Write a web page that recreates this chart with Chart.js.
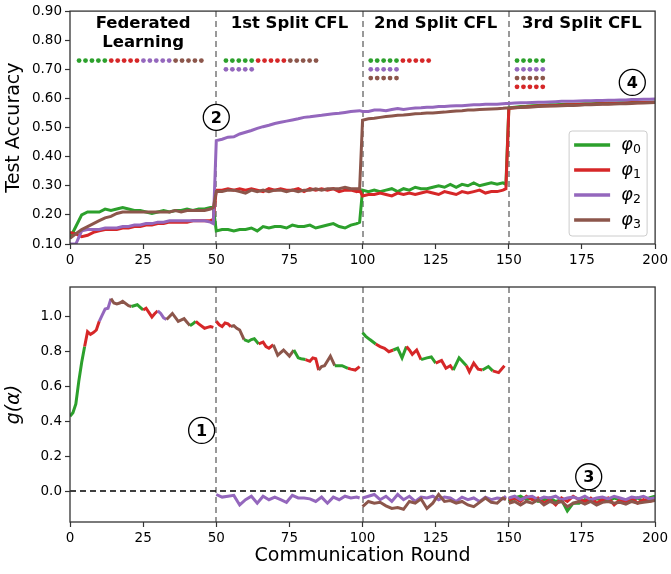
<!DOCTYPE html>
<html><head><meta charset="utf-8">
<script src="https://cdn.jsdelivr.net/npm/chart.js@4.4.0/dist/chart.umd.min.js"></script>
<style>
html,body{margin:0;padding:0;background:#fff;}
#w1{position:absolute;left:0;top:0;width:671px;height:275px;}
#w2{position:absolute;left:0;top:275px;width:671px;height:299px;}
</style></head><body>
<div id="w1"><canvas id="c1"></canvas></div>
<div id="w2"><canvas id="c2"></canvas></div>
<script>
// ---------------- DATA ----------------
const clientLabels = ['φ₀','φ₁','φ₂','φ₃'];
const phaseTitles = [['Federated','Learning'],['1st Split CFL'],['2nd Split CFL'],['3rd Split CFL']];
const phaseStarts = [0,50,100,150];
const splitRounds = [50,100,150];
// cluster membership shown by the coloured dots (rows of client groups per phase)
const clusterRows = [[[0,1,2,3]], [[0,1,3],[2]], [[0,1],[2],[3]], [[0],[2],[3],[1]]];
const xTicks = [0,25,50,75,100,125,150,175,200];
const accTicks = [0.1,0.2,0.3,0.4,0.5,0.6,0.7,0.8,0.9];
const gTicks = [0,0.2,0.4,0.6,0.8,1.0];

const rounds = [0,2,4,6,8,10,12,14,16,18,20,22,24,26,28,30,32,34,36,38,40,42,44,46,48,49,
 50,52,54,56,58,60,62,64,66,68,70,72,74,76,78,80,82,84,86,88,90,92,94,96,98,99,
 100,102,104,106,108,110,112,114,116,118,120,122,124,126,128,130,132,134,136,138,140,142,144,146,148,149,
 150,152,154,156,158,160,162,164,166,168,170,172,174,176,178,180,182,184,186,188,190,192,194,196,198,200];

const accPhi0 = [
 0.12,0.16,0.20,0.21,0.21,0.21,0.22,0.215,0.22,0.225,0.22,0.215,0.215,0.21,0.205,0.21,0.215,0.21,0.215,0.215,0.22,0.215,0.22,0.22,0.225,0.225,
 0.145,0.15,0.15,0.145,0.15,0.15,0.155,0.145,0.16,0.155,0.16,0.16,0.155,0.165,0.16,0.16,0.165,0.155,0.16,0.165,0.17,0.16,0.155,0.165,0.17,0.175,
 0.285,0.28,0.285,0.28,0.285,0.29,0.28,0.29,0.285,0.295,0.29,0.29,0.295,0.3,0.295,0.305,0.295,0.305,0.3,0.31,0.3,0.305,0.31,0.305,0.31,0.305,
 0.568,0.57,0.572,0.573,0.575,0.576,0.577,0.578,0.578,0.579,0.58,0.58,0.581,0.582,0.582,0.583,0.583,0.584,0.584,0.585,0.585,0.586,0.586,0.587,0.587,0.588];
const accPhi1 = [
 0.14,0.135,0.125,0.13,0.14,0.145,0.15,0.15,0.15,0.155,0.155,0.16,0.16,0.165,0.165,0.17,0.17,0.175,0.175,0.175,0.175,0.18,0.18,0.18,0.18,0.185,
 0.285,0.285,0.29,0.285,0.29,0.285,0.29,0.285,0.28,0.29,0.285,0.29,0.285,0.285,0.29,0.28,0.29,0.285,0.29,0.285,0.29,0.28,0.285,0.285,0.28,0.285,
 0.265,0.27,0.27,0.275,0.27,0.265,0.275,0.27,0.275,0.27,0.275,0.28,0.275,0.27,0.28,0.275,0.27,0.28,0.275,0.28,0.285,0.275,0.28,0.28,0.285,0.29,
 0.565,0.568,0.57,0.571,0.572,0.574,0.575,0.575,0.576,0.577,0.578,0.578,0.579,0.58,0.58,0.581,0.582,0.582,0.583,0.583,0.584,0.585,0.585,0.586,0.586,0.587];
const accPhi2 = [
 0.10,0.10,0.145,0.15,0.15,0.15,0.155,0.155,0.155,0.16,0.16,0.165,0.165,0.17,0.17,0.175,0.175,0.18,0.18,0.18,0.18,0.18,0.18,0.18,0.175,0.17,
 0.455,0.46,0.467,0.468,0.478,0.484,0.49,0.497,0.503,0.508,0.514,0.518,0.522,0.526,0.53,0.535,0.537,0.54,0.542,0.545,0.547,0.549,0.552,0.555,0.557,0.558,
 0.555,0.555,0.56,0.56,0.558,0.562,0.565,0.562,0.565,0.567,0.568,0.57,0.57,0.572,0.572,0.574,0.575,0.575,0.577,0.578,0.578,0.58,0.58,0.58,0.582,0.583,
 0.583,0.584,0.585,0.585,0.586,0.587,0.587,0.588,0.589,0.59,0.59,0.59,0.591,0.592,0.592,0.593,0.593,0.594,0.594,0.595,0.595,0.596,0.596,0.597,0.597,0.598];
const accPhi3 = [
 0.12,0.135,0.15,0.16,0.17,0.18,0.19,0.195,0.205,0.21,0.21,0.21,0.21,0.21,0.21,0.21,0.21,0.21,0.215,0.21,0.215,0.215,0.215,0.215,0.22,0.225,
 0.28,0.28,0.285,0.285,0.28,0.275,0.285,0.28,0.285,0.28,0.285,0.285,0.28,0.285,0.28,0.285,0.285,0.29,0.285,0.29,0.29,0.29,0.295,0.29,0.29,0.29,
 0.525,0.53,0.532,0.535,0.538,0.54,0.542,0.543,0.545,0.547,0.548,0.55,0.55,0.552,0.553,0.555,0.557,0.558,0.56,0.56,0.562,0.563,0.564,0.565,0.566,0.567,
 0.567,0.568,0.569,0.57,0.571,0.572,0.573,0.574,0.574,0.575,0.576,0.576,0.577,0.578,0.578,0.579,0.58,0.58,0.581,0.582,0.582,0.583,0.584,0.584,0.585,0.586];

// g(alpha) of the split candidate, with the client that it belongs to (null = gap)
const gRounds = [0,1,2,3,4,5,6,7,8,9,10,11,12,13,14,15,16,17,18,20,21,23,24,25,26,28,29,30,31,32,33,35,37,39,40,41,42,43,44,46,47,48,49,49.5,
 50,51,52,53,54,55,56,57,58,59.5,61,62,63,64.5,66,67,68,69.5,71,73,75,76.5,78,79,80.5,82,83,84,85,86,87,89,90.5,92,93,95,96,97.5,99,99.5,
 100,101,102.5,104.5,106,107.5,109,110.5,112,113.5,115,116,117,118.5,120,122,123.5,125,127,128.5,130,131,133,135.5,136.5,138,139.5,141,143,144.5,146.5,148.5];
const gValues = [0.43,0.45,0.50,0.63,0.74,0.83,0.915,0.90,0.91,0.925,0.975,1.01,1.045,1.05,1.105,1.08,1.075,1.08,1.09,1.065,1.06,1.07,1.055,1.04,1.05,1.0,1.02,1.035,1.02,0.995,0.985,1.02,0.975,0.99,0.97,0.95,0.96,0.975,0.96,0.935,0.94,0.945,0.94,null,
 0.975,0.955,0.945,0.965,0.96,0.945,0.95,0.935,0.925,0.87,0.86,0.87,0.875,0.845,0.855,0.83,0.82,0.84,0.78,0.81,0.775,0.81,0.765,0.76,0.755,0.745,0.765,0.76,0.695,0.715,0.72,0.775,0.72,0.72,0.72,0.705,0.70,0.695,0.715,null,
 0.91,0.89,0.87,0.845,0.83,0.82,0.80,0.81,0.82,0.765,0.83,0.81,0.785,0.81,0.755,0.765,0.77,0.735,0.75,0.705,0.72,0.695,0.765,0.72,0.685,0.735,0.70,0.695,0.715,0.69,0.68,0.72];
const gClient = [0,0,0,0,0,1,1,1,1,1,2,2,2,2,3,3,3,3,3,3,0,0,0,1,1,1,1,2,2,2,3,3,3,3,3,0,0,1,1,1,1,1,1,1,
 1,1,1,1,1,3,3,3,3,0,0,0,0,1,1,1,1,3,3,3,3,0,0,0,1,1,1,1,3,3,3,3,0,0,0,1,1,1,1,1,
 0,0,0,1,1,1,1,0,0,0,1,1,1,1,0,0,0,1,1,1,1,0,0,1,1,1,1,0,0,1,1,1];

// g(alpha) of the other cluster pairs (close to / below zero)
const lowRoundsA = [50,52,54,56,58,60,62,64,66,68,70,72,74,76,78,80,82,84,86,88,90,92,94,96,98,99];
const lowRoundsB = [100,102,104,106,108,110,112,114,116,118,120,122,124,126,128,130,132,134,136,138,140,142,144,146,148,149];
const lowRoundsC = [150,152,154,156,158,160,162,164,166,168,170,172,174,176,178,180,182,184,186,188,190,192,194,196,198,200];
const lowPhi2A = [-0.02,-0.035,-0.03,-0.025,-0.08,-0.05,-0.03,-0.07,-0.03,-0.05,-0.035,-0.05,-0.065,-0.025,-0.04,-0.04,-0.045,-0.06,-0.035,-0.07,-0.035,-0.05,-0.03,-0.04,-0.035,-0.04];
const lowPhi2B = [-0.04,-0.03,-0.02,-0.05,-0.03,-0.06,-0.02,-0.05,-0.03,-0.06,-0.035,-0.04,-0.03,-0.05,-0.035,-0.04,-0.06,-0.035,-0.05,-0.04,-0.06,-0.035,-0.05,-0.04,-0.045,-0.03];
const lowPhi3B = [-0.09,-0.06,-0.07,-0.065,-0.085,-0.1,-0.095,-0.105,-0.06,-0.07,-0.045,-0.1,-0.07,-0.02,-0.06,-0.055,-0.07,-0.06,-0.08,-0.09,-0.065,-0.04,-0.065,-0.07,-0.04,-0.05];
const lowPhi0C = [-0.06,-0.04,-0.03,-0.05,-0.04,-0.06,-0.05,-0.04,-0.06,-0.05,-0.115,-0.07,-0.07,-0.05,-0.06,-0.045,-0.05,-0.06,-0.04,-0.05,-0.06,-0.05,-0.04,-0.06,-0.04,-0.03];
const lowPhi1C = [-0.05,-0.04,-0.06,-0.03,-0.05,-0.04,-0.07,-0.05,-0.08,-0.04,-0.06,-0.03,-0.05,-0.06,-0.04,-0.07,-0.05,-0.04,-0.08,-0.05,-0.06,-0.04,-0.07,-0.05,-0.06,-0.05];
const lowPhi2C = [-0.04,-0.03,-0.05,-0.035,-0.03,-0.05,-0.035,-0.04,-0.03,-0.05,-0.04,-0.035,-0.045,-0.03,-0.05,-0.04,-0.035,-0.045,-0.03,-0.04,-0.05,-0.035,-0.04,-0.03,-0.045,-0.04];
const lowPhi3C = [-0.07,-0.06,-0.08,-0.06,-0.07,-0.05,-0.08,-0.06,-0.07,-0.06,-0.09,-0.07,-0.06,-0.075,-0.06,-0.08,-0.065,-0.06,-0.07,-0.065,-0.075,-0.06,-0.07,-0.065,-0.06,-0.055];

// ---------------- STYLE / BUILD ----------------
const clientColors = ['#2ca02c','#d62728','#9467bd','#8c564b'];
const FONT = "'DejaVu Sans', sans-serif";
Chart.defaults.font.family = FONT;
Chart.defaults.color = '#000';

const accSeries = [accPhi0, accPhi1, accPhi2, accPhi3];
const pts = (xs, ys) => xs.map((x,i)=>({x, y: ys[i]}));
function joinParts(parts){
  const out=[];
  parts.forEach((p,k)=>{ if(k>0) out.push({x:p[0][0]-0.5, y:null}); out.push(...pts(p[0],p[1])); });
  return out;
}
const lowParts = [
  [[lowRoundsC, lowPhi0C]],
  [[lowRoundsC, lowPhi1C]],
  [[lowRoundsA, lowPhi2A],[lowRoundsB, lowPhi2B],[lowRoundsC, lowPhi2C]],
  [[lowRoundsB, lowPhi3B],[lowRoundsC, lowPhi3C]]
];

// cluster dots
const dotStep = 2.2, dotOffsets = [3.1,3.3,2.8,2.8], dotRowY = 0.73, dotRowGap = 0.03, dotsPerClient = 5;
const dotPts=[], dotCols=[];
clusterRows.forEach((rows,p)=>{
  rows.forEach((grp,r)=>{
    let k=0;
    grp.forEach(c=>{ for(let j=0;j<dotsPerClient;j++){ dotPts.push({x: phaseStarts[p]+dotOffsets[p]+k*dotStep, y: dotRowY - r*dotRowGap}); dotCols.push(clientColors[c]); k++; } });
  });
});

function makeDeco(cfg){
  return {
    id:'deco',
    beforeDatasetsDraw(chart){
      const {ctx, chartArea:a, scales:{x,y}} = chart;
      ctx.save();
      ctx.lineWidth=1.6; ctx.setLineDash([6,4]); ctx.strokeStyle='#808080';
      splitRounds.forEach(r=>{const px=Math.round(x.getPixelForValue(r)); ctx.beginPath(); ctx.moveTo(px,a.top); ctx.lineTo(px,a.bottom); ctx.stroke();});
      if(cfg.zeroLine){
        ctx.strokeStyle='#000'; ctx.lineWidth=1.6;
        const py=Math.round(y.getPixelForValue(0));
        ctx.beginPath(); ctx.moveTo(a.left,py); ctx.lineTo(a.right,py); ctx.stroke();
      }
      ctx.restore();
    },
    afterDatasetsDraw(chart){
      const {ctx, chartArea:a, scales:{x,y}} = chart;
      ctx.save();
      // frame
      ctx.strokeStyle='#333'; ctx.lineWidth=1.3;
      ctx.strokeRect(a.left, a.top, a.right-a.left, a.bottom-a.top);
      // phase titles
      if(cfg.titles){
        ctx.fillStyle='#000'; ctx.textAlign='center'; ctx.textBaseline='middle';
        ctx.font='bold 16.5px '+FONT;
        phaseTitles.forEach((lines,i)=>{
          const cx = x.getPixelForValue(phaseStarts[i]+25);
          lines.forEach((t,j)=>{ ctx.fillText(t, cx, y.getPixelForValue(cfg.titleY[j])); });
        });
      }
      // circled numbers
      (cfg.marks||[]).forEach(m=>{
        const px=x.getPixelForValue(m.x), py=y.getPixelForValue(m.y);
        ctx.beginPath(); ctx.arc(px,py,13,0,Math.PI*2);
        ctx.fillStyle='#fff'; ctx.fill(); ctx.lineWidth=1.3; ctx.strokeStyle='#000'; ctx.setLineDash([]); ctx.stroke();
        ctx.fillStyle='#000'; ctx.font='bold 16px '+FONT; ctx.textAlign='center'; ctx.textBaseline='middle';
        ctx.fillText(m.t, px, py+1);
      });
      // legend
      if(cfg.legend){
        const W=78, H=105, bx=a.right-8-W, by=a.bottom-8-H;
        ctx.beginPath();
        if(ctx.roundRect) ctx.roundRect(bx,by,W,H,3); else ctx.rect(bx,by,W,H);
        ctx.fillStyle='rgba(255,255,255,0.85)'; ctx.fill();
        ctx.strokeStyle='#cccccc'; ctx.lineWidth=1; ctx.stroke();
        const ds = chart.data.datasets.filter(d=>d.client!==undefined);
        ds.forEach((d,i)=>{
          const cy = by+14+i*25;
          ctx.beginPath(); ctx.moveTo(bx+5,cy); ctx.lineTo(bx+41,cy);
          ctx.strokeStyle=d.borderColor; ctx.lineWidth=3.5; ctx.stroke();
          ctx.fillStyle='#000'; ctx.textAlign='left'; ctx.textBaseline='middle';
          ctx.font='italic 18px '+FONT;
          const base = d.label.charAt(0);
          ctx.fillText(base, bx+52, cy);
          const w = ctx.measureText(base).width;
          const sub = String.fromCharCode(d.label.charCodeAt(1)-0x2080+48);
          ctx.font='12.5px '+FONT;
          ctx.fillText(sub, bx+52+w, cy+5);
        });
      }
      ctx.restore();
    }
  };
}

function xAxis(height, title){
  const ax = {
    type:'linear', min:0, max:200,
    afterBuildTicks: s=>{ s.ticks = xTicks.map(v=>({value:v})); },
    afterFit: s=>{ s.height = height; },
    grid:{drawOnChartArea:false, drawTicks:true, tickLength:5, tickColor:'#333', tickWidth:1.2},
    border:{display:false},
    ticks:{font:{size:13.5}, padding:3, maxRotation:0, autoSkip:false, color:'#000', callback:v=>String(v)}
  };
  if(title) ax.title = {display:true, text:title, font:{size:19}, padding:{top:0,bottom:7}, color:'#000'};
  return ax;
}
function yAxis(min,max,ticks,dec,title,italic){
  return {
    min, max,
    afterBuildTicks: s=>{ s.ticks = ticks.map(v=>({value:v})); },
    afterFit: s=>{ s.width = 70; },
    grid:{drawOnChartArea:false, drawTicks:true, tickLength:5, tickColor:'#333', tickWidth:1.2},
    border:{display:false},
    ticks:{font:{size:13.5}, padding:3, color:'#000', callback:v=>Number(v).toFixed(dec)},
    title:{display:true, text:title, font:{size:19, style: italic?'italic':'normal'}, padding:{top:3,bottom:0}, color:'#000'}
  };
}

const common = {animation:false, responsive:true, maintainAspectRatio:false, devicePixelRatio:1, events:[]};

new Chart(document.getElementById('c1'), {
  type:'line',
  data:{datasets:[
    ...clientLabels.map((lab,c)=>({label:lab, client:c, data: pts(rounds, accSeries[c]),
      borderColor:clientColors[c], backgroundColor:clientColors[c], borderWidth:3, pointRadius:0, tension:0, fill:false, order:4-c})),
    {label:'clusters', data:dotPts, showLine:false, pointRadius:2.4, pointHoverRadius:2.4, pointBackgroundColor:dotCols, pointBorderWidth:0, order:0}
  ]},
  options:Object.assign({}, common, {
    layout:{padding:{top:10,right:13,left:0,bottom:0}},
    plugins:{legend:{display:false}, tooltip:{enabled:false}},
    scales:{ x:xAxis(31,null), y:yAxis(0.1,0.9,accTicks,2,'Test Accuracy',false) }
  }),
  plugins:[makeDeco({titles:true, titleY:[0.857,0.792], legend:true,
    marks:[{t:'2',x:50,y:0.535},{t:'4',x:192.2,y:0.655}]})]
});

new Chart(document.getElementById('c2'), {
  type:'line',
  data:{datasets:[
    ...clientLabels.map((lab,c)=>({label:lab, data: joinParts(lowParts[c]),
      borderColor:clientColors[c], borderWidth:3, pointRadius:0, tension:0, fill:false, spanGaps:false, order:5-c})),
    {label:'g', data: pts(gRounds, gValues), borderWidth:3, pointRadius:0, tension:0, fill:false, spanGaps:false, order:0,
      borderColor:clientColors[0],
      segment:{borderColor: ctx => clientColors[gClient[ctx.p0DataIndex]]}}
  ]},
  options:Object.assign({}, common, {
    layout:{padding:{top:12,right:13,left:0,bottom:0}},
    plugins:{legend:{display:false}, tooltip:{enabled:false}},
    scales:{ x:xAxis(52,'Communication Round'), y:yAxis(-0.178,1.172,gTicks,1,'g(α)',true) }
  }),
  plugins:[makeDeco({zeroLine:true,
    marks:[{t:'1',x:45,y:0.348},{t:'3',x:177.3,y:0.082}]})]
});
</script>
</body></html>
